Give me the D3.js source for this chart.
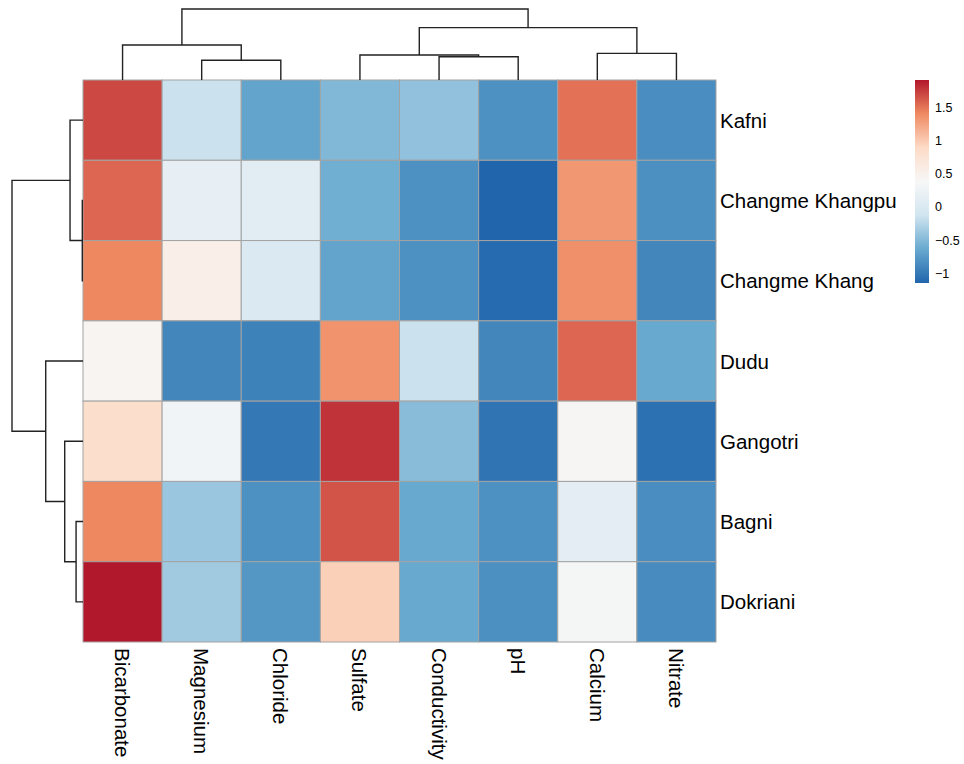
<!DOCTYPE html>
<html>
<head>
<meta charset="utf-8">
<script src="https://cdn.jsdelivr.net/npm/d3@7"></script>
<style>
  body { margin: 0; background: #fff; }
  text { font-family: "Liberation Sans", Arial, sans-serif; fill: #000; }
  .dend { fill: none; stroke: #222; stroke-width: 1.4; }
</style>
</head>
<body>
<svg id="chart" width="964" height="764"></svg>
<script>
// column / row labels in display order
const cols = ["Bicarbonate", "Magnesium", "Chloride", "Sulfate", "Conductivity", "pH", "Calcium", "Nitrate"];
const rows = ["Kafni", "Changme Khangpu", "Changme Khang", "Dudu", "Gangotri", "Bagni", "Dokriani"];

// scaled values, one row per site
const kafni     = [1.70, -0.15, -0.67, -0.50, -0.43, -0.82,  1.52, -0.84];
const khangpu   = [1.57,  0.17,  0.10, -0.58, -0.82, -1.14,  1.33, -0.83];
const khang     = [1.42,  0.55,  0.00, -0.67, -0.82, -1.10,  1.37, -0.90];
const dudu      = [0.45, -0.90, -0.93,  1.35, -0.15, -0.90,  1.57, -0.63];
const gangotri  = [0.85,  0.30, -1.00,  1.80, -0.47, -1.03,  0.42, -1.06];
const bagni     = [1.42, -0.38, -0.82,  1.65, -0.63, -0.82,  0.12, -0.84];
const dokriani  = [1.92, -0.35, -0.77,  0.97, -0.63, -0.83,  0.35, -0.86];
const values = [kafni, khangpu, khang, dudu, gangotri, bagni, dokriani];

// hclust style merges: negative = leaf (1-based), positive = earlier merge
const colMerge = [[-2, -3], [-5, -6], [-4, 2], [-7, -8], [-1, 1], [3, 4], [5, 6]];
const colHeight = [1.11, 1.31, 1.41, 1.50, 1.97, 2.95, 4.0];
const rowMerge = [[-2, -3], [-6, -7], [-1, 1], [-5, 2], [-4, 4], [3, 5]];
const rowHeight = [0.04, 0.39, 0.73, 1.03, 2.1, 4.0];

const legendTicks = [-1, -0.5, 0, 0.5, 1, 1.5];
const palette = ["#2166AC", "#67A9CF", "#D1E5F0", "#F7F7F7", "#FDDBC7", "#EF8A62", "#B2182B"];
const vMin = -1.14, vMax = 1.92;

const svg = d3.select("#chart");

const hm = { left: 83, top: 80, width: 633, height: 562 };

const x = d3.scaleBand().domain(cols).range([hm.left, hm.left + hm.width]);
const y = d3.scaleBand().domain(rows).range([hm.top, hm.top + hm.height]);

const stops = d3.range(palette.length).map(i => vMin + (vMax - vMin) * i / (palette.length - 1));
const color = d3.scaleLinear().domain(stops).range(palette).interpolate(d3.interpolateRgb).clamp(true);

// cells
const cells = [];
values.forEach((r, i) => r.forEach((v, j) => cells.push({ row: rows[i], col: cols[j], v })));

svg.append("g")
  .selectAll("rect")
  .data(cells)
  .join("rect")
  .attr("x", d => x(d.col))
  .attr("y", d => y(d.row))
  .attr("width", x.bandwidth())
  .attr("height", y.bandwidth())
  .attr("fill", d => color(d.v))
  .attr("stroke", "#a3a3a3")
  .attr("stroke-width", 1);

// dendrograms
function dendroPath(merge, heights, leafPos, hScale, vertical) {
  const pos = [], hgt = [];
  let d = "";
  const get = k => k < 0 ? [leafPos(-k - 1), 0] : [pos[k - 1], hgt[k - 1]];
  merge.forEach(([a, b], i) => {
    const [p1, h1] = get(a), [p2, h2] = get(b);
    const h = heights[i];
    pos.push((p1 + p2) / 2);
    hgt.push(h);
    const pts = [[p1, h1], [p1, h], [p2, h], [p2, h2]];
    d += pts.map((p, k) => {
      const xx = vertical ? p[0] : hScale(p[1]);
      const yy = vertical ? hScale(p[1]) : p[0];
      return (k ? "L" : "M") + xx + "," + yy;
    }).join("");
  });
  return d;
}

const colH = d3.scaleLinear().domain([0, 4.0]).range([hm.top, 9]);
svg.append("path").attr("class", "dend")
  .attr("d", dendroPath(colMerge, colHeight, i => x(cols[i]) + x.bandwidth() / 2, colH, true));

const rowH = d3.scaleLinear().domain([0, 4.0]).range([hm.left, 12]);
svg.append("path").attr("class", "dend")
  .attr("d", dendroPath(rowMerge, rowHeight, i => y(rows[i]) + y.bandwidth() / 2, rowH, false));

// row labels
svg.append("g")
  .selectAll("text")
  .data(rows)
  .join("text")
  .attr("x", hm.left + hm.width + 4)
  .attr("y", d => y(d) + y.bandwidth() / 2)
  .attr("dominant-baseline", "central")
  .style("font-size", "20.5px")
  .text(d => d);

// column labels
svg.append("g")
  .selectAll("text")
  .data(cols)
  .join("text")
  .attr("transform", d => `translate(${x(d) + x.bandwidth() / 2},${hm.top + hm.height + 6}) rotate(90)`)
  .attr("dominant-baseline", "central")
  .style("font-size", "20.5px")
  .text(d => d);

// legend
const lg = { x: 915, w: 14 };
const ly = d3.scaleLinear().domain([vMin, vMax]).range([283, 80]);

const grad = svg.append("defs").append("linearGradient")
  .attr("id", "lgrad").attr("x1", 0).attr("x2", 0).attr("y1", 1).attr("y2", 0);
grad.selectAll("stop")
  .data(stops)
  .join("stop")
  .attr("offset", (d, i) => i / (stops.length - 1))
  .attr("stop-color", d => color(d));

svg.append("rect")
  .attr("x", lg.x).attr("y", ly(vMax))
  .attr("width", lg.w).attr("height", ly(vMin) - ly(vMax))
  .attr("fill", "url(#lgrad)");

svg.append("g")
  .selectAll("text")
  .data(legendTicks)
  .join("text")
  .attr("x", lg.x + lg.w + 6)
  .attr("y", d => ly(d))
  .attr("dominant-baseline", "central")
  .style("font-size", "12.5px")
  .text(d => d3.format("")(d).replace("-", "\u2212"));
</script>
</body>
</html>
